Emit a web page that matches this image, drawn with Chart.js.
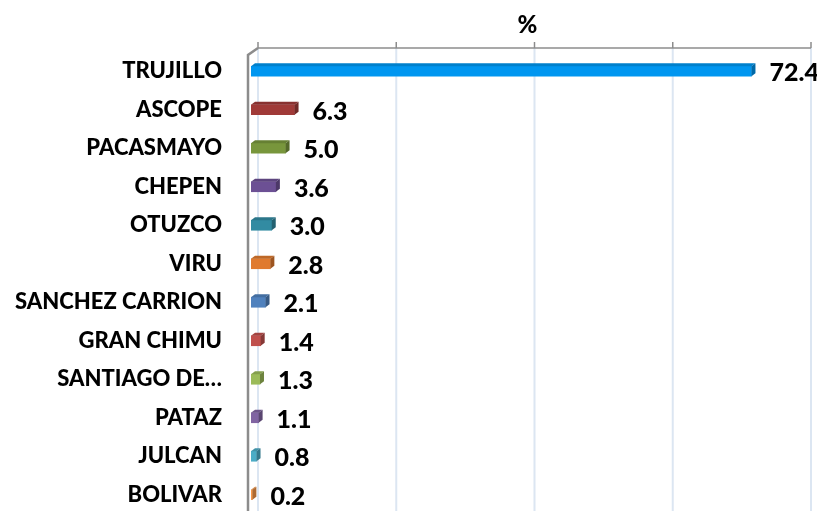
<!DOCTYPE html>
<html>
<head>
<meta charset="utf-8">
<script src="https://cdn.jsdelivr.net/npm/chart.js@4.4.1/dist/chart.umd.min.js"></script>
<style>
  html, body { margin: 0; padding: 0; background: #fff; overflow: hidden; }
  canvas { display: block; }
</style>
</head>
<body>
<canvas id="provChart" width="817" height="520"></canvas>
<script>
// Data
const provinces = ['TRUJILLO', 'ASCOPE', 'PACASMAYO', 'CHEPEN', 'OTUZCO', 'VIRU',
    'SANCHEZ CARRION', 'GRAN CHIMU', 'SANTIAGO DE…', 'PATAZ', 'JULCAN', 'BOLIVAR'];
const percents = [72.4, 6.3, 5.0, 3.6, 3.0, 2.8, 2.1, 1.4, 1.3, 1.1, 0.8, 0.2];
const barColors = ['#0096F0', '#A03A38', '#78963C', '#6C5094', '#328BA2', '#E07A2E',
    '#4F81BD', '#C0504D', '#9BBB59', '#8064A2', '#4BACC6', '#F79646'];
const xTicks = [0, 20, 40, 60, 80];

const FONT = 'Lato, Carlito, "Open Sans", sans-serif';

// darken / lighten a hex colour
function shade(hex, f) {
    const n = parseInt(hex.slice(1), 16);
    let r = (n >> 16) & 255, g = (n >> 8) & 255, b = n & 255;
    r = Math.round(Math.min(255, r * f));
    g = Math.round(Math.min(255, g * f));
    b = Math.round(Math.min(255, b * f));
    return `rgb(${r},${g},${b})`;
}

// back wall of the 3D frame: grid lines, tick marks, top edge, left edge
const wallPlugin = {
    id: 'wall',
    beforeDatasetsDraw(chart) {
        const { ctx, chartArea, scales } = chart;
        const dx = 7, dy = 4;
        const top = chartArea.top - dy;
        ctx.save();
        xTicks.forEach(v => {
            const px = scales.x.getPixelForValue(v) + dx;
            ctx.strokeStyle = '#DCE6F2';
            ctx.lineWidth = 2;
            ctx.beginPath();
            ctx.moveTo(px, top);
            ctx.lineTo(px, chartArea.bottom);
            ctx.stroke();
            ctx.strokeStyle = '#8C8C8C';
            ctx.lineWidth = 1.5;
            ctx.beginPath();
            ctx.moveTo(px, top - 6);
            ctx.lineTo(px, top);
            ctx.stroke();
        });
        const x0 = scales.x.getPixelForValue(xTicks[0]);
        const x1 = scales.x.getPixelForValue(xTicks[xTicks.length - 1]);
        ctx.strokeStyle = '#8C8C8C';
        ctx.lineWidth = 1.5;
        ctx.beginPath();
        ctx.moveTo(x0 + dx, top);
        ctx.lineTo(x1 + dx, top);
        ctx.stroke();
        // left wall edge
        ctx.lineWidth = 2.5;
        ctx.beginPath();
        ctx.moveTo(x0 + dx, top);
        ctx.lineTo(x0 - 3, chartArea.top + 3);
        ctx.lineTo(x0 - 3, chartArea.bottom);
        ctx.stroke();
        ctx.restore();
    }
};

// 3D caps on the bars and value labels
const barPlugin = {
    id: 'bar3d',
    afterDatasetsDraw(chart) {
        const { ctx } = chart;
        const meta = chart.getDatasetMeta(0);
        const dx = 4, dy = 3;
        ctx.save();
        meta.data.forEach((bar, i) => {
            const { x, y, base, height } = bar.getProps(['x', 'y', 'base', 'height'], true);
            const t = y - height / 2, b = y + height / 2;
            const c = barColors[i];
            ctx.fillStyle = shade(c, 0.85);
            ctx.beginPath();
            ctx.moveTo(base, t);
            ctx.lineTo(base + dx, t - dy);
            ctx.lineTo(x + dx, t - dy);
            ctx.lineTo(x, t);
            ctx.closePath();
            ctx.fill();
            ctx.fillStyle = shade(c, 0.7);
            ctx.beginPath();
            ctx.moveTo(x, t);
            ctx.lineTo(x + dx, t - dy);
            ctx.lineTo(x + dx, b - dy);
            ctx.lineTo(x, b);
            ctx.closePath();
            ctx.fill();

            ctx.fillStyle = '#000';
            ctx.font = `900 25px ${FONT}`;
            ctx.textAlign = 'left';
            ctx.textBaseline = 'middle';
            ctx.fillText(percents[i].toFixed(1), x + 18, y + 2);
        });
        ctx.restore();
    }
};

function renderChart() {
    const ctx = document.getElementById('provChart').getContext('2d');
    new Chart(ctx, {
        type: 'bar',
        data: {
            labels: provinces,
            datasets: [{
                data: percents,
                backgroundColor: barColors,
                borderWidth: 0,
                barThickness: 10
            }]
        },
        options: {
            indexAxis: 'y',
            responsive: false,
            animation: false,
            layout: { padding: { top: 0, right: 13, bottom: 6, left: 0 } },
            plugins: {
                legend: { display: false },
                tooltip: { enabled: false }
            },
            scales: {
                x: {
                    position: 'top',
                    min: 0,
                    max: 80,
                    ticks: { display: false, stepSize: 20 },
                    grid: { display: false },
                    border: { display: false },
                    title: {
                        display: true,
                        text: '%',
                        color: '#000',
                        font: { family: FONT, size: 24, weight: 900 },
                        padding: { top: 11, bottom: 0 }
                    },
                    afterFit(scale) { scale.height = 52; }
                },
                y: {
                    grid: { display: false, drawTicks: false },
                    border: { display: false },
                    ticks: {
                        color: '#000',
                        padding: 29,
                        font: { family: FONT, size: 22, weight: 900 }
                    },
                    afterFit(scale) {
                        scale.width = 251;
                        scale.paddingTop = 0;
                        scale.paddingBottom = 0;
                    }
                }
            }
        },
        plugins: [wallPlugin, barPlugin]
    });
}

document.addEventListener('DOMContentLoaded', renderChart);
</script>
</body>
</html>
